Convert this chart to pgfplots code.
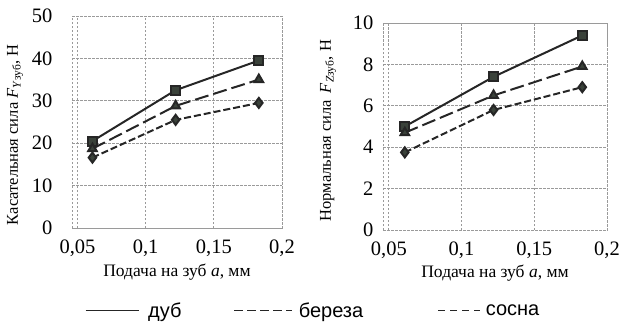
\documentclass[border=0pt]{standalone}
\usepackage{pgfplots}
\pgfplotsset{compat=1.18}
\usepackage{fontspec}
\setmainfont{Liberation Serif}
\newfontfamily\legfont{Liberation Sans}
\definecolor{ln}{HTML}{262626}
\definecolor{mk}{HTML}{3A423A}
\definecolor{gr}{HTML}{9A9A9A}
\begin{document}
\begin{tikzpicture}
\path[use as bounding box] (0,0) rectangle (623pt,322pt);
\pgfplotsset{
  common/.style={
    scale only axis,
    anchor=south west,
    grid=major,
    major grid style={gr, line width=0.8pt, dash pattern=on 2.5pt off 1.5pt},
    axis line style={gr, line width=0.9pt, dash pattern=on 2.5pt off 1.5pt},
    major tick length=0pt,
    tick label style={font=\fontsize{20.5}{24}\selectfont},
    /pgf/number format/assume math mode=true,
    xtick={0.05,0.1,0.15,0.2},
    xticklabels={{0,05},{0,1},{0,15},{0,2}},
    xticklabel style={anchor=center, yshift=-20pt},
    every axis x label/.style={at={(axis description cs:0.5,-0.21)}, anchor=center, font=\fontsize{17.5}{21}\selectfont},
    every axis y label/.style={rotate=90, anchor=center, font=\fontsize{16.5}{19}\selectfont},
    xlabel={Подача на зуб \textit{a}, мм},
  },
  dub/.style={ln, line width=2pt, mark=square*, mark size=4.5pt, mark options={solid, fill=mk, draw=ln}},
  ber/.style={ln, line width=2pt, dash pattern=on 14pt off 5pt, mark=triangle*, mark size=5pt, mark options={solid, fill=mk, draw=ln}},
  sos/.style={ln, line width=2pt, dash pattern=on 7pt off 3pt, mark=diamond*, mark size=5pt, mark options={solid, fill=mk, draw=ln}},
}
\begin{axis}[common,
  at={(72pt,94pt)}, width=210pt, height=212pt,
  xmin=0.046, xmax=0.2, ymin=0, ymax=50,
  ytick={0,10,20,30,40,50},
  yticklabel style={anchor=east, xshift=-16pt},
  ylabel={Касательная сила \textit{F}\textsubscript{\textit{Y}зуб}, Н},
  ylabel style={at={(axis description cs:-0.271,0.44)}},
  legend columns=3,
  legend style={at={(axis description cs:0.062,-0.39)}, anchor=west, draw=none, fill=none,
    inner sep=0pt, outer sep=0pt,
    font=\legfont\fontsize{20}{22}\selectfont,
    /tikz/column 1/.style={column sep=7pt},
    /tikz/column 2/.style={column sep=50pt},
    /tikz/column 3/.style={column sep=4pt},
    /tikz/column 4/.style={column sep=72pt},
    /tikz/column 5/.style={column sep=3pt},
  },
]
\addplot[dub, legend image code/.code={\draw[ln, line width=1.2pt] (0pt,0pt) -- (53pt,0pt);}]
  coordinates {(0.061,20.5) (0.122,32.5) (0.183,39.5)};
\addlegendentry{дуб}
\addplot[ber, legend image code/.code={\draw[ln, line width=1.2pt, dash pattern=on 9pt off 4pt] (0pt,0pt) -- (58pt,0pt);}]
  coordinates {(0.061,18.7) (0.122,28.8) (0.183,35)};
\addlegendentry{береза}
\addplot[sos, legend image code/.code={\draw[ln, line width=1.6pt, dash pattern=on 7pt off 5pt] (0pt,0pt) -- (42pt,0pt);}]
  coordinates {(0.061,16.6) (0.122,25.5) (0.183,29.5)};
\addlegendentry{сосна}
\end{axis}
\begin{axis}[common,
  at={(383pt,92pt)}, width=224pt, height=207pt,
  xmin=0.046, xmax=0.2, ymin=0, ymax=10,
  ytick={0,2,4,6,8,10},
  yticklabel style={anchor=east, xshift=-6pt},
  ylabel={Нормальная сила \,\textit{F}\textsubscript{\textit{Z}зуб}, Н},
  ylabel style={at={(axis description cs:-0.245,0.48)}},
]
\addplot[dub] coordinates {(0.061,5.0) (0.122,7.4) (0.183,9.4)};
\addplot[ber] coordinates {(0.061,4.7) (0.122,6.5) (0.183,7.9)};
\addplot[sos] coordinates {(0.061,3.75) (0.122,5.8) (0.183,6.9)};
\end{axis}
\end{tikzpicture}
\end{document}
